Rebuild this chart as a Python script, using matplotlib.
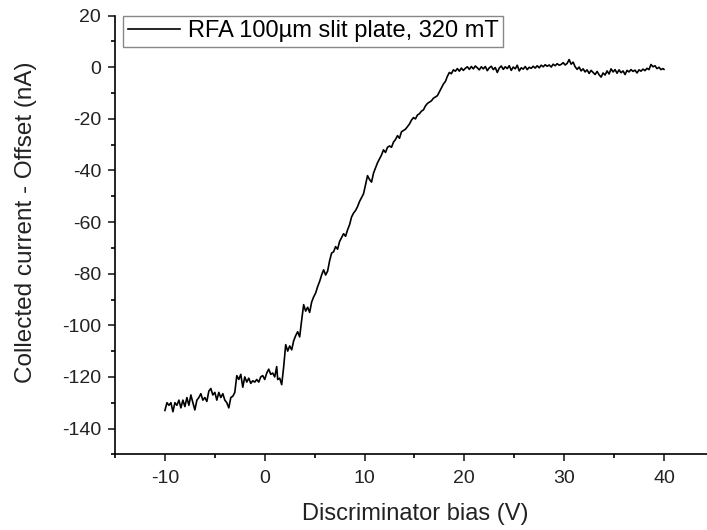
import numpy as np
import matplotlib
matplotlib.use('Agg')
import matplotlib.pyplot as plt
from matplotlib.ticker import MultipleLocator

plt.rcParams['font.family'] = ['Liberation Sans', 'DejaVu Sans']
plt.rcParams['axes.unicode_minus'] = False

# discriminator bias (V) and collected current - offset (nA)
bias = [-10.0, -9.8, -9.6, -9.4, -9.2, -9.0, -8.8, -8.6, -8.4, -8.2, -8.0, -7.8, -7.6, -7.4, -7.2,
        -7.0, -6.8, -6.6, -6.4, -6.2, -6.0, -5.8, -5.6, -5.4, -5.2, -5.0, -4.8, -4.6, -4.4, -4.2,
        -4.0, -3.8, -3.6, -3.4, -3.2, -3.0, -2.8, -2.6, -2.4, -2.2, -2.0, -1.8, -1.6, -1.4, -1.2,
        -1.0, -0.8, -0.6, -0.4, -0.2, 0.0, 0.2, 0.4, 0.6, 0.8, 1.0, 1.2, 1.3, 1.5, 1.7,
        1.9, 2.1, 2.3, 2.5, 2.7, 2.9, 3.1, 3.3, 3.5, 3.7, 3.9, 4.1, 4.3, 4.5, 4.7,
        4.9, 5.1, 5.3, 5.5, 5.7, 5.9, 6.1, 6.3, 6.5, 6.7, 6.9, 7.1, 7.3, 7.5, 7.7,
        7.9, 8.1, 8.3, 8.5, 8.7, 8.9, 9.1, 9.3, 9.5, 9.7, 9.9, 10.1, 10.3, 10.5, 10.7,
        10.9, 11.1, 11.3, 11.5, 11.7, 11.9, 12.1, 12.3, 12.5, 12.7, 12.9, 13.1, 13.3, 13.5, 13.7,
        13.9, 14.1, 14.3, 14.5, 14.7, 14.9, 15.1, 15.3, 15.5, 15.7, 15.9, 16.1, 16.3, 16.5, 16.7,
        16.9, 17.1, 17.3, 17.5, 17.7, 17.9, 18.1, 18.3, 18.5, 18.7, 18.9, 19.1, 19.3, 19.5, 19.7,
        19.9, 20.1, 20.3, 20.5, 20.7, 20.9, 21.1, 21.3, 21.5, 21.7, 21.9, 22.1, 22.3, 22.5, 22.7,
        22.9, 23.1, 23.3, 23.5, 23.7, 23.9, 24.1, 24.3, 24.5, 24.7, 24.9, 25.1, 25.3, 25.5, 25.7,
        25.9, 26.1, 26.3, 26.5, 26.7, 26.9, 27.1, 27.3, 27.5, 27.7, 27.9, 28.1, 28.3, 28.5, 28.7,
        28.9, 29.1, 29.3, 29.5, 29.7, 29.9, 30.1, 30.3, 30.5, 30.7, 30.9, 31.1, 31.3, 31.5, 31.7,
        31.9, 32.1, 32.3, 32.5, 32.7, 32.9, 33.1, 33.3, 33.5, 33.7, 33.9, 34.1, 34.3, 34.5, 34.7,
        34.9, 35.1, 35.3, 35.5, 35.7, 35.9, 36.1, 36.3, 36.5, 36.7, 36.9, 37.1, 37.3, 37.5, 37.7,
        37.9, 38.1, 38.3, 38.5, 38.7, 38.9, 39.1, 39.3, 39.5, 39.7, 39.9, 40.0]

current = [-133, -130, -131, -130, -133.5, -130, -131, -129, -132, -129, -131.5, -128, -131, -127, -130,
           -132.8, -129, -128, -126.5, -129, -128, -129.5, -125.5, -124.5, -127, -126, -129, -126, -128, -126.5,
           -129, -130, -132, -128, -127.5, -126, -119.5, -121, -119, -124, -120, -122, -120.5, -122.5, -121.5,
           -122, -121, -122, -120, -119.5, -121, -118.5, -117, -119, -118.5, -120, -116, -121, -120.5, -123,
           -116, -107.5, -110, -108, -109.5, -106, -104, -102.5, -104.5, -98, -92, -94.5, -93, -95, -91,
           -89, -87.5, -85, -83, -80.5, -78.5, -80.5, -79, -75, -72, -71.5, -69.5, -70.5, -67.5, -66,
           -64.5, -65.5, -63, -61, -58, -56.5, -55.5, -54, -52, -50.5, -49, -45.5, -42, -43.5, -44.5,
           -41, -39, -37, -35.5, -34, -32, -33, -31, -30.5, -31, -29, -28, -26.5, -27.5, -25,
           -24.5, -24, -23, -22, -20.5, -19.5, -20, -18.5, -18, -17, -16.5, -15, -14, -13.5, -13,
           -12, -11.5, -11, -9.5, -8, -6.5, -5.5, -3.5, -2, -2.5, -1, -1.5, -0.5, -1.5, -0.3,
           -1.2, -0.4, 0.2, -0.8, 0.3, -0.6, 0.5, -0.2, -1.0, 0.2, -0.6, 0.3, -1.3, -0.2, 0.4,
           -0.9, -0.1, -2.0, -0.3, 0.5, -0.8, 0.2, -0.5, 0.6, -1.2, 0.1, -0.6, 0.8, -1.4, -0.2,
           -0.7, 0.3, -0.9, 0.0, -0.4, 0.4, -0.3, 0.6, -0.2, 0.8, 0.2, 1.0, 0.4, 0.9, 0.1,
           1.2, 0.6, 1.4, 0.8, 1.1, 1.8, 0.9, 1.5, 3.0, 1.2, 2.0, 0.2, -0.8, 0.1, -1.4,
           -0.6, -1.8, -1.0, -2.4, -1.2, -2.0, -2.8, -1.6, -2.9, -3.8, -2.2, -3.0, -1.4, -2.6, -0.6,
           -1.8, -0.9, -2.3, -1.0, -2.1, -1.4, -2.8, -1.2, -1.8, -0.9, -1.6, -1.1, -2.2, -1.0, -1.5,
           -0.7, -1.3, -0.4, -0.9, 1.1, 0.2, 0.6, -0.5, 0.0, -0.9, -0.5, -0.8]

fig = plt.figure(figsize=(7.07, 5.30), dpi=100)
# axes runs slightly past the right edge, like the cropped original
ax = fig.add_axes([0.1627, 0.1428, 0.847, 0.8276])

ax.plot(bias, current, color='black', lw=1.2, label='RFA 100µm slit plate, 320 mT')

ax.set_xlim(-15, 45)
ax.set_ylim(-150, 20)
ax.xaxis.set_major_locator(MultipleLocator(10))
ax.xaxis.set_minor_locator(MultipleLocator(5))
ax.yaxis.set_major_locator(MultipleLocator(20))
ax.yaxis.set_minor_locator(MultipleLocator(10))

ax.spines['top'].set_visible(False)
ax.spines['right'].set_visible(False)
for s in ['left', 'bottom']:
    ax.spines[s].set_linewidth(1.2)
ax.tick_params(which='major', direction='out', length=5, width=1.2, labelsize=14, colors='#222222')
ax.tick_params(which='minor', direction='out', length=3, width=1.2)
ax.tick_params(axis='y', pad=5)
ax.tick_params(axis='x', pad=6)

ax.set_xlabel('Discriminator bias (V)', fontsize=17, color='#222222')
ax.set_ylabel('Collected current - Offset (nA)', fontsize=17.5, color='#222222')
ax.xaxis.set_label_coords(0.5008, -0.111)
ax.yaxis.set_label_coords(-0.130, 0.53)

leg = ax.legend(loc='upper left', bbox_to_anchor=(8/599, 1.0), borderaxespad=0, fontsize=17,
                handlelength=2.2, fancybox=False, edgecolor='#888888', framealpha=1,
                borderpad=0.2, handletextpad=0.35)
leg.get_frame().set_linewidth(1.0)

plt.savefig('out.png', dpi=100)
